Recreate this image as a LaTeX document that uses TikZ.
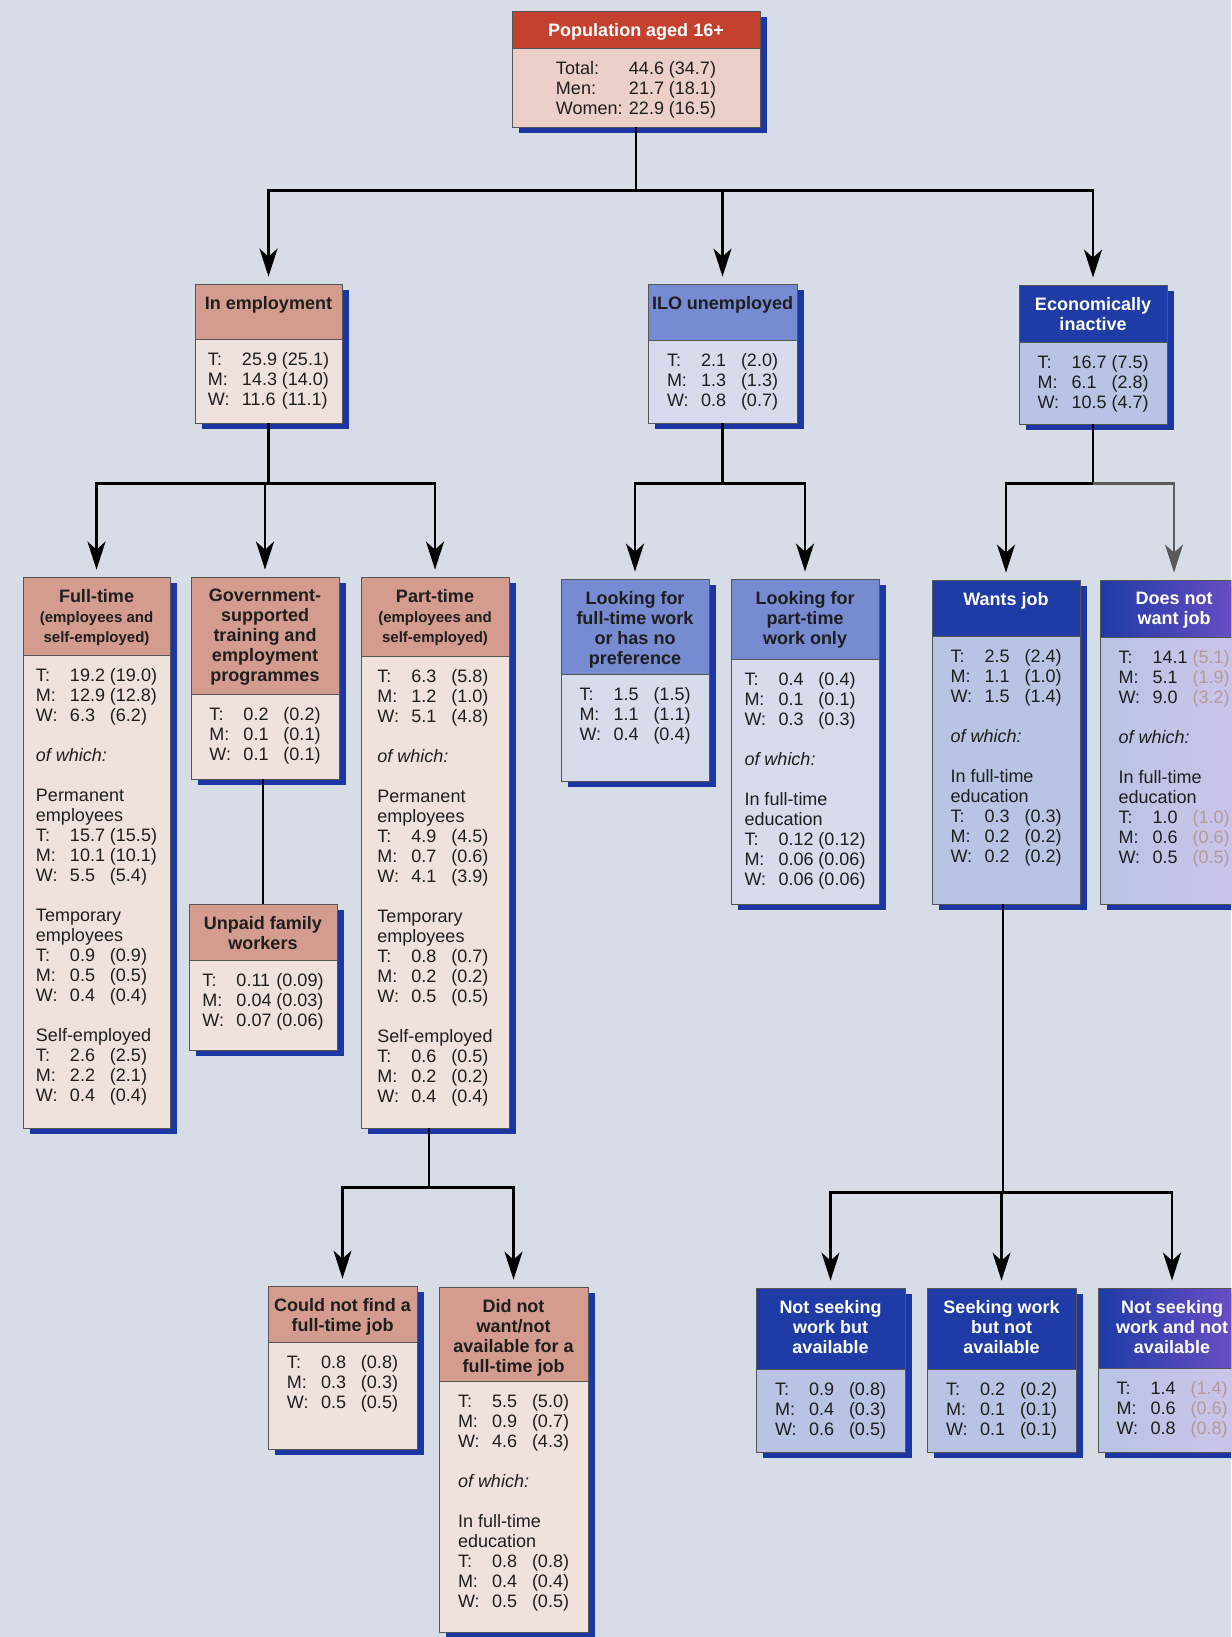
\documentclass[tikz,border=0pt]{standalone}
\usepackage{fontspec}
\setmainfont{Liberation Sans}
\usetikzlibrary{arrows.meta,fit}
\definecolor{pagebg}{HTML}{D7DDE6}
\definecolor{pophead}{HTML}{C4412F}
\definecolor{popbody}{HTML}{ECCFC8}
\definecolor{redhead}{HTML}{D49C8E}
\definecolor{redbody}{HTML}{EFE2DD}
\definecolor{bluehead}{HTML}{778BD2}
\definecolor{bluebody}{HTML}{D6DCEC}
\definecolor{darkhead}{HTML}{1E3BA6}
\definecolor{darkbody}{HTML}{B9C4E4}
\definecolor{purpedge}{HTML}{7050C6}
\definecolor{purpbody}{HTML}{CDC4EA}
\definecolor{shadowblue}{HTML}{1C37A4}
\definecolor{boxedge}{HTML}{555555}
\definecolor{ink}{HTML}{1E1E1E}
\definecolor{fadenum}{HTML}{B39A9C}
\definecolor{fadeline}{HTML}{5A5A5A}

\newcommand{\faded}[1]{\textcolor{fadenum}{#1}}
\newcommand{\subhd}{\fontsize{7.5}{10}\selectfont}
\newcommand{\trow}[4][17pt]{\makebox[#1][l]{#2}\makebox[20pt][l]{#3}#4}
\newcommand{\tmw}[6]{\trow{T:}{#1}{#2}\\\trow{M:}{#3}{#4}\\\trow{W:}{#5}{#6}}
% box: name, kind, left, top, right, header bottom, bottom, header, body
\newcommand{\lfsbox}[9]{%
  \fill[shadowblue] (#3+7,#4+6) rectangle (#5+7,#7+6);
  \filldraw[#2bd] (#3,#6) rectangle (#5,#7);
  \filldraw[#2hd] (#3,#4) rectangle (#5,#6);
  \node[headtext,#2ht] at ({(#3+#5)/2},#4+12) {#8};
  \node[bodytext] at ({(#3+#5)/2},#6+13) {#9};
  \node[fit={(#3,#4) (#5,#7)},inner sep=0pt] (#1) {};
}

\begin{document}
\begin{tikzpicture}[x=0.5pt,y=-0.5pt,
    boxline/.style={draw=boxedge,line width=0.4pt},
    pophd/.style={boxline,fill=pophead}, popbd/.style={boxline,fill=popbody}, popht/.style={text=white},
    redhd/.style={boxline,fill=redhead}, redbd/.style={boxline,fill=redbody}, redht/.style={text=ink},
    bluehd/.style={boxline,fill=bluehead}, bluebd/.style={boxline,fill=bluebody}, blueht/.style={text=ink},
    darkhd/.style={boxline,fill=darkhead}, darkbd/.style={boxline,fill=darkbody}, darkht/.style={text=white},
    purphd/.style={boxline,left color=darkhead,right color=purpedge},
    purpbd/.style={boxline,left color=darkbody,right color=purpbody}, purpht/.style={text=white},
    headtext/.style={anchor=north,inner sep=0pt,align=center,font=\bfseries\fontsize{9}{10}\selectfont},
    bodytext/.style={anchor=north,inner sep=0pt,align=left,text=ink,font=\fontsize{9}{10}\selectfont},
    conn/.style={line width=1.2pt},
    arr/.style={conn,-{Stealth[length=14pt,width=9pt,inset=4pt]},shorten >=3.5pt}]
  \useasboundingbox (0,0) rectangle (1231,1637);
  \fill[pagebg] (0,0) rectangle (1231,1637);
  \clip (0,0) rectangle (1231,1637);

  % whole population
  \lfsbox{pop}{pop}{512}{11}{760}{48}{127}{Population aged 16+}
    {\trow[36.5pt]{Total:}{44.6}{(34.7)}\\\trow[36.5pt]{Men:}{21.7}{(18.1)}\\\trow[36.5pt]{Women:}{22.9}{(16.5)}}

  % first split
  \lfsbox{emp}{red}{195}{284}{342}{339}{423}{In employment}
    {\tmw{25.9}{(25.1)}{14.3}{(14.0)}{11.6}{(11.1)}}
  \lfsbox{ilo}{blue}{648}{284}{797}{340}{423}{ILO unemployed}
    {\tmw{2.1}{(2.0)}{1.3}{(1.3)}{0.8}{(0.7)}}
  \lfsbox{inact}{dark}{1019}{285}{1167}{342}{424}{Economically\\inactive}
    {\tmw{16.7}{(7.5)}{6.1}{(2.8)}{10.5}{(4.7)}}

  % in employment
  \lfsbox{ft}{red}{23}{577}{170}{655}{1128}{Full-time\\{\subhd (employees and}\\{\subhd self-employed)}}
    {\tmw{19.2}{(19.0)}{12.9}{(12.8)}{6.3}{(6.2)}\\[10pt]\textit{of which:}\\[10pt]
     Permanent\\employees\\\tmw{15.7}{(15.5)}{10.1}{(10.1)}{5.5}{(5.4)}\\[10pt]
     Temporary\\employees\\\tmw{0.9}{(0.9)}{0.5}{(0.5)}{0.4}{(0.4)}\\[10pt]
     Self-employed\\\tmw{2.6}{(2.5)}{2.2}{(2.1)}{0.4}{(0.4)}}
  \lfsbox{gov}{red}{191}{577}{339}{694}{779}{Government-\\supported\\training and\\employment\\programmes}
    {\tmw{0.2}{(0.2)}{0.1}{(0.1)}{0.1}{(0.1)}}
  \lfsbox{unpaid}{red}{189}{904}{337}{960}{1050}{Unpaid family\\workers}
    {\tmw{0.11}{(0.09)}{0.04}{(0.03)}{0.07}{(0.06)}}
  \lfsbox{pt}{red}{361}{577}{509}{656}{1128}{Part-time\\{\subhd (employees and}\\{\subhd self-employed)}}
    {\tmw{6.3}{(5.8)}{1.2}{(1.0)}{5.1}{(4.8)}\\[10pt]\textit{of which:}\\[10pt]
     Permanent\\employees\\\tmw{4.9}{(4.5)}{0.7}{(0.6)}{4.1}{(3.9)}\\[10pt]
     Temporary\\employees\\\tmw{0.8}{(0.7)}{0.2}{(0.2)}{0.5}{(0.5)}\\[10pt]
     Self-employed\\\tmw{0.6}{(0.5)}{0.2}{(0.2)}{0.4}{(0.4)}}

  % unemployed
  \lfsbox{lft}{blue}{561}{579}{709}{674}{781}{Looking for\\full-time work\\or has no\\preference}
    {\tmw{1.5}{(1.5)}{1.1}{(1.1)}{0.4}{(0.4)}}
  \lfsbox{lpt}{blue}{731}{579}{879}{659}{904}{Looking for\\part-time\\work only}
    {\tmw{0.4}{(0.4)}{0.1}{(0.1)}{0.3}{(0.3)}\\[10pt]\textit{of which:}\\[10pt]
     In full-time\\education\\\tmw{0.12}{(0.12)}{0.06}{(0.06)}{0.06}{(0.06)}}

  % inactive
  \lfsbox{wants}{dark}{932}{580}{1080}{636}{904}{Wants job}
    {\tmw{2.5}{(2.4)}{1.1}{(1.0)}{1.5}{(1.4)}\\[10pt]\textit{of which:}\\[10pt]
     In full-time\\education\\\tmw{0.3}{(0.3)}{0.2}{(0.2)}{0.2}{(0.2)}}
  \lfsbox{nowant}{purp}{1100}{580}{1248}{637}{904}{Does not\\want job}
    {\tmw{14.1}{\faded{(5.1)}}{5.1}{\faded{(1.9)}}{9.0}{\faded{(3.2)}}\\[10pt]\textit{of which:}\\[10pt]
     In full-time\\education\\\tmw{1.0}{\faded{(1.0)}}{0.6}{\faded{(0.6)}}{0.5}{\faded{(0.5)}}}

  % part-time reasons
  \lfsbox{cnf}{red}{268}{1286}{417}{1342}{1449}{Could not find a\\full-time job}
    {\tmw{0.8}{(0.8)}{0.3}{(0.3)}{0.5}{(0.5)}}
  \lfsbox{dnw}{red}{439}{1287}{588}{1381}{1632}{Did not\\want/not\\available for a\\full-time job}
    {\tmw{5.5}{(5.0)}{0.9}{(0.7)}{4.6}{(4.3)}\\[10pt]\textit{of which:}\\[10pt]
     In full-time\\education\\\tmw{0.8}{(0.8)}{0.4}{(0.4)}{0.5}{(0.5)}}

  % wants job
  \lfsbox{nsa}{dark}{756}{1288}{905}{1369}{1452}{Not seeking\\work but\\available}
    {\tmw{0.9}{(0.8)}{0.4}{(0.3)}{0.6}{(0.5)}}
  \lfsbox{swna}{dark}{927}{1288}{1076}{1369}{1452}{Seeking work\\but not\\available}
    {\tmw{0.2}{(0.2)}{0.1}{(0.1)}{0.1}{(0.1)}}
  \lfsbox{nsna}{purp}{1098}{1288}{1246}{1368}{1452}{Not seeking\\work and not\\available}
    {\tmw{1.4}{\faded{(1.4)}}{0.6}{\faded{(0.6)}}{0.8}{\faded{(0.8)}}}

  % connectors
  \path (pop.south) ++(0,63) coordinate (popfork);
  \draw[conn] (pop.south) -- (popfork);
  \foreach \kid in {emp,ilo,inact}
    \draw[arr] (popfork) -| (\kid.north);

  \path (emp.south) ++(0,60) coordinate (empfork);
  \draw[conn] (emp.south) -- (empfork);
  \foreach \kid in {ft,gov,pt}
    \draw[arr] (empfork) -| (\kid.north);
  \draw[conn] (unpaid.north |- gov.south) -- (unpaid.north);

  \path (ilo.south) ++(0,60) coordinate (ilofork);
  \draw[conn] (ilo.south) -- (ilofork);
  \foreach \kid in {lft,lpt}
    \draw[arr] (ilofork) -| (\kid.north);

  \path (inact.south) ++(0,59) coordinate (inactfork);
  \draw[conn] (inact.south) -- (inactfork);
  \draw[arr] (inactfork) -| (wants.north);
  \draw[arr,draw=fadeline] (inactfork) -| (nowant.north);

  \path (pt.south) ++(-6,59) coordinate (ptfork);
  \draw[conn] (ptfork |- pt.south) -- (ptfork);
  \foreach \kid in {cnf,dnw}
    \draw[arr] (ptfork) -| (\kid.north);

  \path (wants.south) ++(-3,288) coordinate (wantsfork);
  \draw[conn] (wantsfork |- wants.south) -- (wantsfork);
  \foreach \kid in {nsa,swna,nsna}
    \draw[arr] (wantsfork) -| (\kid.north);
\end{tikzpicture}
\end{document}
